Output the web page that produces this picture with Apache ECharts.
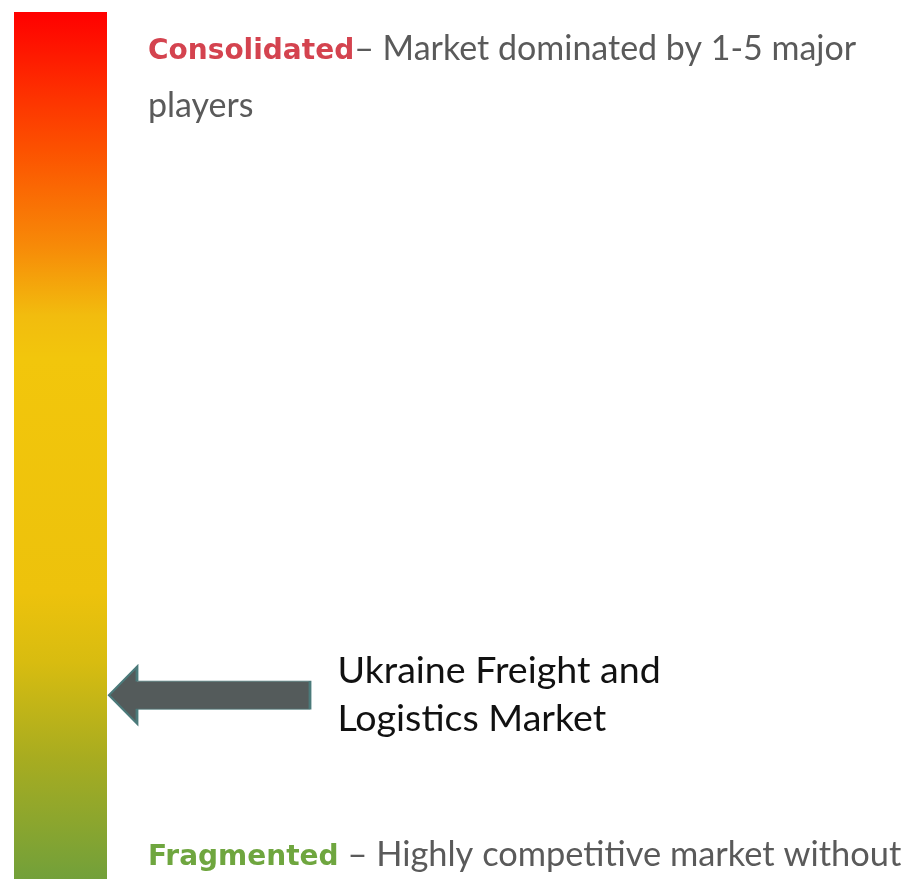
<!DOCTYPE html>
<html>
<head>
<meta charset="utf-8">
<script src="https://cdn.jsdelivr.net/npm/echarts@6/dist/echarts.min.js"></script>
<style>
  html, body { margin: 0; padding: 0; background: #ffffff; }
  #chart { width: 907px; height: 879px; }
</style>
</head>
<body>
<div id="chart"></div>
<script>
// Concentration scale: 0 = fragmented, 100 = consolidated
const scaleCategory = ['Market concentration'];
const scaleTop = [100];
const marketNames = ['Ukraine Freight and\nLogistics Market'];
const marketPosition = [21.2];
const levelTitles = ['Consolidated', 'Fragmented'];
const consolidatedLines = ['– Market dominated by 1-5 major', 'players'];
const fragmentedLines = [' – Highly competitive market without'];

// Colour ramp of the scale bar, top (consolidated) to bottom (fragmented)
const rampStops = [
  { offset: 0.00, color: '#ff0000' },
  { offset: 0.16, color: '#fc5200' },
  { offset: 0.27, color: '#f78a08' },
  { offset: 0.35, color: '#f2bc0e' },
  { offset: 0.40, color: '#f2c60c' },
  { offset: 0.67, color: '#edc20c' },
  { offset: 0.75, color: '#d8bc10' },
  { offset: 0.86, color: '#a8ac20' },
  { offset: 1.00, color: '#72a03a' }
];

const arrowPath = 'path://M0,28.5 L28,0 L28,14.5 L201,14.5 L201,42.5 L28,42.5 L28,57 Z';

// Bold level names sit a little lower so they share the body text baseline
const titleFont = { fontFamily: 'DejaVu Sans', fontWeight: 'bold', fontSize: 28, padding: [5, 0, 0, 0] };
const bodyFont = { fontFamily: 'Lato', fontWeight: 'normal', fontSize: 34, fill: '#5a5a5a' };

const chart = echarts.init(document.getElementById('chart'), null, { renderer: 'canvas' });

chart.setOption({
  animation: false,
  backgroundColor: '#ffffff',
  grid: [
    { left: 14, top: 12, width: 93, bottom: 0 },
    { left: 109, top: 12, width: 201, bottom: 0 }
  ],
  xAxis: [
    { type: 'category', gridIndex: 0, data: scaleCategory, show: false },
    { type: 'value', gridIndex: 1, min: 0, max: 1, show: false }
  ],
  yAxis: [
    { type: 'value', gridIndex: 0, min: 0, max: 100, show: false },
    { type: 'value', gridIndex: 1, min: 0, max: 100, show: false }
  ],
  series: [
    {
      type: 'bar',
      xAxisIndex: 0,
      yAxisIndex: 0,
      barWidth: '100%',
      data: scaleTop,
      itemStyle: {
        color: new echarts.graphic.LinearGradient(0, 0, 0, 1, rampStops)
      },
      silent: true
    },
    {
      type: 'scatter',
      xAxisIndex: 1,
      yAxisIndex: 1,
      data: marketPosition.map((v, i) => ({ value: [0.5, v], name: marketNames[i] })),
      symbol: arrowPath,
      symbolSize: [201, 57],
      symbolKeepAspect: false,
      itemStyle: {
        color: '#545b5b',
        borderColor: '#4b7a7a',
        borderWidth: 1.5,
        opacity: 1
      },
      label: {
        show: true,
        position: 'right',
        distance: 26,
        formatter: p => p.name,
        color: '#111111',
        fontFamily: 'Lato',
        fontSize: 37.6,
        lineHeight: 48,
        align: 'left'
      },
      silent: true
    }
  ],
  graphic: [
    {
      type: 'text',
      x: 148,
      y: 49,
      style: {
        text: '{t|' + levelTitles[0] + '}{d|' + consolidatedLines[0] + '}',
        verticalAlign: 'middle',
        rich: {
          t: Object.assign({ fill: '#d4434f' }, titleFont),
          d: bodyFont
        }
      }
    },
    {
      type: 'text',
      x: 148,
      y: 106,
      style: {
        text: consolidatedLines[1],
        verticalAlign: 'middle',
        font: 'normal 34px Lato',
        fill: '#5a5a5a'
      }
    },
    {
      type: 'text',
      x: 148,
      y: 855,
      style: {
        text: '{t|' + levelTitles[1] + '}{d|' + fragmentedLines[0] + '}',
        verticalAlign: 'middle',
        rich: {
          t: Object.assign({ fill: '#6fa63f' }, titleFont),
          d: Object.assign({}, bodyFont, { fontSize: 34.4 })
        }
      }
    }
  ]
});
</script>
</body>
</html>
